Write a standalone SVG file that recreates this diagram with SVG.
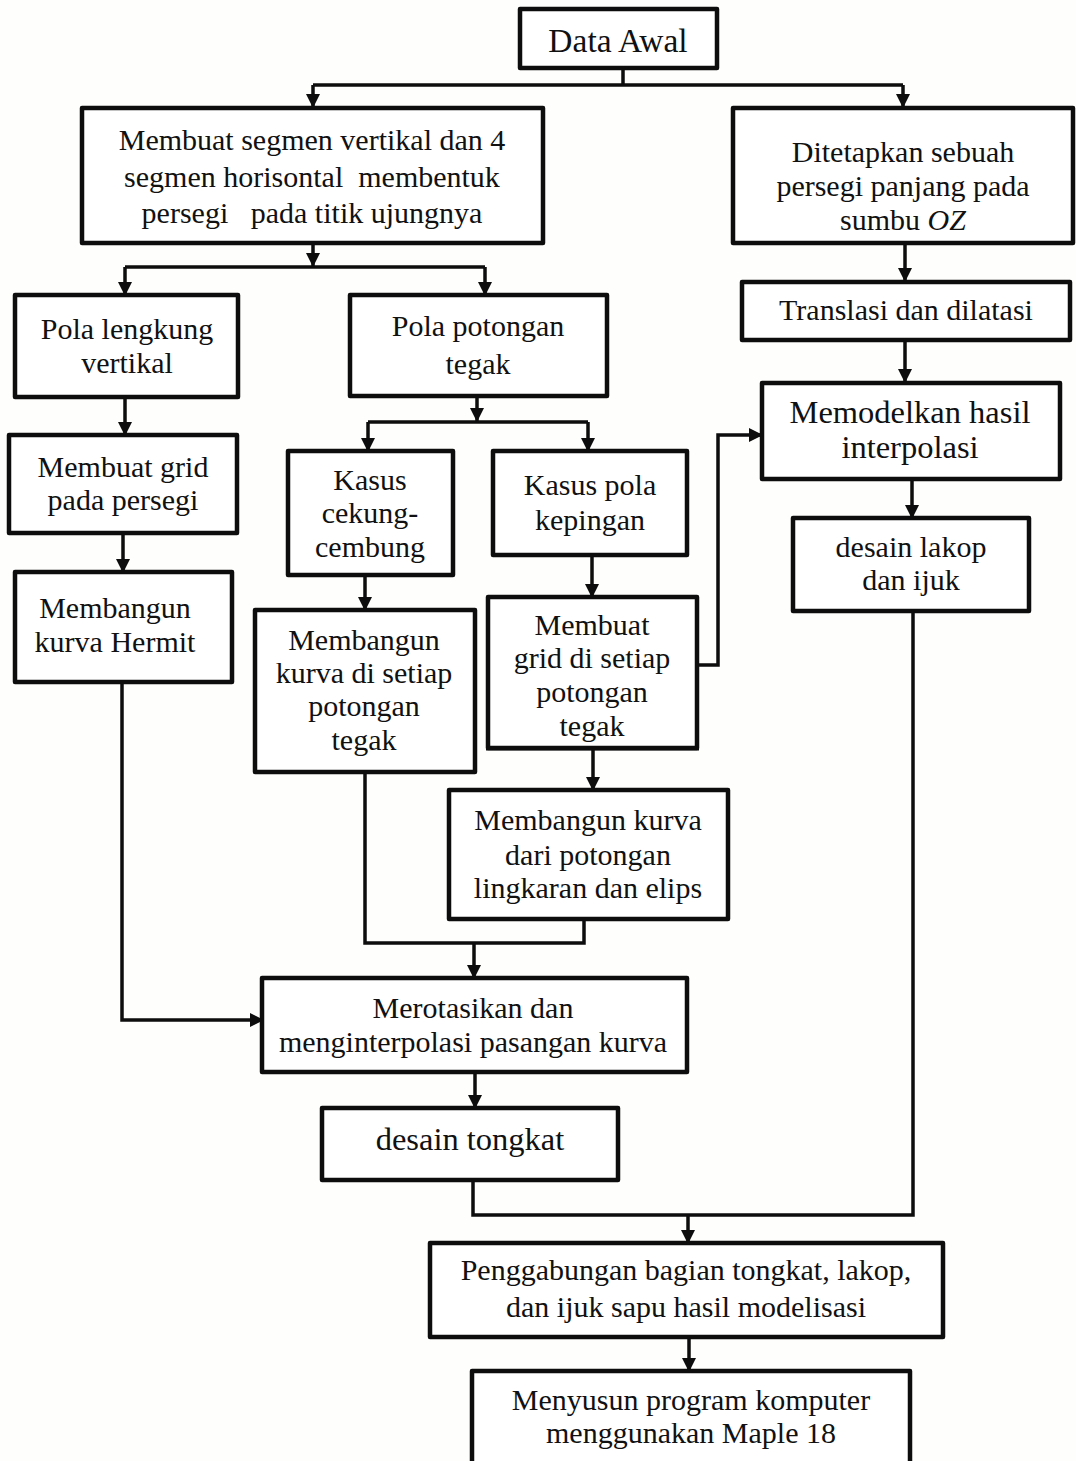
<svg xmlns="http://www.w3.org/2000/svg" width="1076" height="1461" viewBox="0 0 1076 1461">
<style>
.bg{fill:#fefefc}
.box{fill:#ffffff;stroke:#0d0d0d;stroke-width:4.5;stroke-linejoin:round}
.t{font-family:"Liberation Serif","Times New Roman",serif;font-size:30px;text-anchor:middle;fill:#111;white-space:pre}
.big{font-size:32.5px}
.c{fill:none;stroke:#0d0d0d;stroke-width:3.5;stroke-linejoin:miter}
</style>
<defs>
<marker id="ah" viewBox="0 0 14 14" refX="13" refY="7" markerWidth="14" markerHeight="14" markerUnits="userSpaceOnUse" orient="auto">
<path d="M0 0 L14 7 L0 14 Z" fill="#0d0d0d"/>
</marker>
</defs>
<rect class="bg" x="0" y="0" width="1076" height="1461"/>

<g id="connectors">
<path class="c" d="M623 69 V85"/>
<path class="c" d="M313 85 H903"/>
<path class="c" d="M313 85 V107" marker-end="url(#ah)"/>
<path class="c" d="M903 85 V107" marker-end="url(#ah)"/>
<path class="c" d="M313 243 V266" marker-end="url(#ah)"/>
<path class="c" d="M125 267 H485"/>
<path class="c" d="M125 267 V295" marker-end="url(#ah)"/>
<path class="c" d="M485 267 V295" marker-end="url(#ah)"/>
<path class="c" d="M905 243 V281" marker-end="url(#ah)"/>
<path class="c" d="M905 340 V382" marker-end="url(#ah)"/>
<path class="c" d="M125 397 V435" marker-end="url(#ah)"/>
<path class="c" d="M123 533 V572" marker-end="url(#ah)"/>
<path class="c" d="M477 397 V421" marker-end="url(#ah)"/>
<path class="c" d="M368 422 H588"/>
<path class="c" d="M368 422 V451" marker-end="url(#ah)"/>
<path class="c" d="M588 422 V451" marker-end="url(#ah)"/>
<path class="c" d="M365 575 V610" marker-end="url(#ah)"/>
<path class="c" d="M592 555 V597" marker-end="url(#ah)"/>
<path class="c" d="M697 665 H718 V435 H762" marker-end="url(#ah)"/>
<path class="c" d="M593 748 V790" marker-end="url(#ah)"/>
<path class="c" d="M365 772 V943 H584 V919"/>
<path class="c" d="M474 943 V978" marker-end="url(#ah)"/>
<path class="c" d="M122 682 V1020 H263" marker-end="url(#ah)"/>
<path class="c" d="M912 479 V518" marker-end="url(#ah)"/>
<path class="c" d="M475 1072 V1108" marker-end="url(#ah)"/>
<path class="c" d="M473 1180 V1215 H913 V611"/>
<path class="c" d="M688 1215 V1243" marker-end="url(#ah)"/>
<path class="c" d="M689 1337 V1371" marker-end="url(#ah)"/>
</g>

<g id="n-data-awal">
<rect class="box" x="520" y="9" width="197" height="59"/>
<text class="t" x="618" y="52" style="font-size:33.5px">Data Awal</text>
</g>
<g id="n-segmen">
<rect class="box" x="82" y="108" width="461" height="135"/>
<text class="t" x="312" y="150">Membuat segmen vertikal dan 4</text>
<text class="t" x="312" y="187">segmen horisontal  membentuk</text>
<text class="t" x="312" y="223">persegi   pada titik ujungnya</text>
</g>
<g id="n-ditetapkan">
<rect class="box" x="733" y="108" width="340" height="135"/>
<text class="t" x="903" y="162">Ditetapkan sebuah</text>
<text class="t" x="903" y="196">persegi panjang pada</text>
<text class="t" x="903" y="230">sumbu <tspan font-style="italic">OZ</tspan></text>
</g>
<g id="n-translasi">
<rect class="box" x="742" y="282" width="328" height="58"/>
<text class="t" x="906" y="320">Translasi dan dilatasi</text>
</g>
<g id="n-memodelkan">
<rect class="box" x="762" y="383" width="298" height="96"/>
<text class="t big" x="910" y="423">Memodelkan hasil</text>
<text class="t big" x="910" y="458">interpolasi</text>
</g>
<g id="n-lakop">
<rect class="box" x="793" y="518" width="236" height="93"/>
<text class="t" x="911" y="557">desain lakop</text>
<text class="t" x="911" y="590">dan ijuk</text>
</g>
<g id="n-pola-lengkung">
<rect class="box" x="15" y="295" width="223" height="102"/>
<text class="t" x="127" y="339">Pola lengkung</text>
<text class="t" x="127" y="373">vertikal</text>
</g>
<g id="n-grid-persegi">
<rect class="box" x="9" y="435" width="228" height="98"/>
<text class="t" x="123" y="477">Membuat grid</text>
<text class="t" x="123" y="510">pada persegi</text>
</g>
<g id="n-hermit">
<rect class="box" x="15" y="572" width="217" height="110"/>
<text class="t" x="115" y="618">Membangun</text>
<text class="t" x="115" y="652">kurva Hermit</text>
</g>
<g id="n-pola-potongan">
<rect class="box" x="350" y="295" width="257" height="101"/>
<text class="t" x="478" y="336">Pola potongan</text>
<text class="t" x="478" y="374">tegak</text>
</g>
<g id="n-cekung">
<rect class="box" x="288" y="451" width="165" height="124"/>
<text class="t" x="370" y="490">Kasus</text>
<text class="t" x="370" y="523">cekung-</text>
<text class="t" x="370" y="557">cembung</text>
</g>
<g id="n-kepingan">
<rect class="box" x="493" y="451" width="194" height="104"/>
<text class="t" x="590" y="495">Kasus pola</text>
<text class="t" x="590" y="530">kepingan</text>
</g>
<g id="n-kurva-setiap">
<rect class="box" x="255" y="610" width="220" height="162"/>
<text class="t" x="364" y="650">Membangun</text>
<text class="t" x="364" y="683">kurva di setiap</text>
<text class="t" x="364" y="716">potongan</text>
<text class="t" x="364" y="750">tegak</text>
</g>
<g id="n-grid-setiap">
<rect class="box" x="488" y="597" width="209" height="151"/>
<text class="t" x="592" y="635">Membuat</text>
<text class="t" x="592" y="668">grid di setiap</text>
<text class="t" x="592" y="702">potongan</text>
<text class="t" x="592" y="736">tegak</text>
<rect x="486" y="746" width="213" height="4.5" fill="#0d0d0d"/>
</g>
<g id="n-kurva-lingkaran">
<rect class="box" x="449" y="790" width="279" height="129"/>
<text class="t" x="588" y="830">Membangun kurva</text>
<text class="t" x="588" y="865">dari potongan</text>
<text class="t" x="588" y="898">lingkaran dan elips</text>
</g>
<g id="n-merotasikan">
<rect class="box" x="262" y="978" width="425" height="94"/>
<text class="t" x="473" y="1018">Merotasikan dan</text>
<text class="t" x="473" y="1052">menginterpolasi pasangan kurva</text>
</g>
<g id="n-tongkat">
<rect class="box" x="322" y="1108" width="296" height="72"/>
<text class="t big" x="470" y="1150">desain tongkat</text>
</g>
<g id="n-penggabungan">
<rect class="box" x="430" y="1243" width="513" height="94"/>
<text class="t" x="686" y="1280">Penggabungan bagian tongkat, lakop,</text>
<text class="t" x="686" y="1317">dan ijuk sapu hasil modelisasi</text>
</g>
<g id="n-menyusun">
<rect class="box" x="472" y="1371" width="438" height="110"/>
<text class="t" x="691" y="1410">Menyusun program komputer</text>
<text class="t" x="691" y="1443">menggunakan Maple 18</text>
</g>
</svg>
